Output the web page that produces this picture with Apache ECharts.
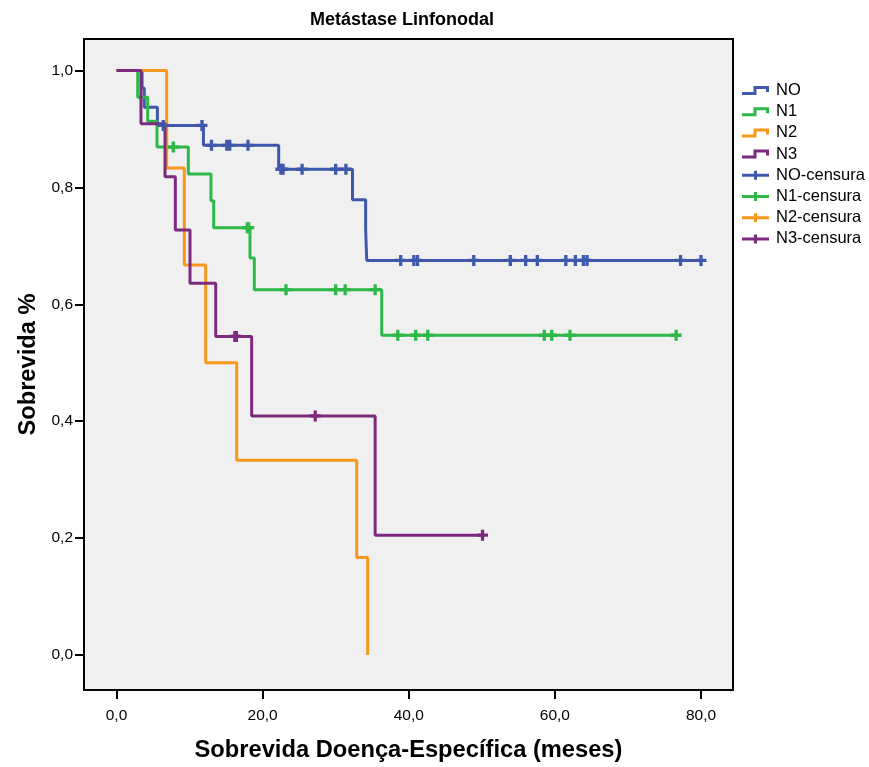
<!DOCTYPE html>
<html>
<head>
<meta charset="utf-8">
<script src="https://cdn.jsdelivr.net/npm/echarts@6/dist/echarts.min.js"></script>
<style>
  html, body { margin: 0; padding: 0; background: #ffffff; }
  #chart { width: 869px; height: 767px; }
</style>
</head>
<body>
<div id="chart"></div>
<script>
// ---- Data ----
const seriesNames = ['NO', 'N1', 'N2', 'N3'];
const censorNames = ['NO-censura', 'N1-censura', 'N2-censura', 'N3-censura'];

// Kaplan-Meier step curves: event times (months) and survival after each step
const noTimes = [0, 3.5, 3.8, 5.6, 11.9, 22.2, 32.3, 34.1, 34.25, 80.0];
const noSurv  = [1, 0.970, 0.937, 0.906, 0.872, 0.831, 0.779, 0.728, 0.675, 0.675];

const n1Times = [0, 2.9, 4.27, 5.54, 9.83, 12.93, 13.3, 18.27, 18.86, 36.3, 76.6];
const n1Surv  = [1, 0.954, 0.913, 0.869, 0.823, 0.777, 0.731, 0.679, 0.625, 0.547, 0.547];

const n2Times = [0, 6.87, 9.28, 12.2, 16.45, 32.88, 34.38];
const n2Surv  = [1, 0.833, 0.667, 0.500, 0.333, 0.167, 0];

const n3Times = [0, 3.35, 6.64, 8.05, 10.06, 13.58, 18.5, 35.4, 50.1];
const n3Surv  = [1, 0.909, 0.818, 0.727, 0.636, 0.545, 0.409, 0.205, 0.205];

// Censored observations
const noCensTimes = [6.4, 11.7, 13.0, 15.1, 15.5, 18.0, 22.5, 22.8, 25.4, 30.0, 31.4, 38.9, 40.7, 41.2, 48.9, 53.9, 56.0, 57.6, 61.5, 62.8, 63.9, 64.4, 77.2, 80.0];
const noCensSurv  = [0.906, 0.906, 0.872, 0.872, 0.872, 0.872, 0.831, 0.831, 0.831, 0.831, 0.831, 0.675, 0.675, 0.675, 0.675, 0.675, 0.675, 0.675, 0.675, 0.675, 0.675, 0.675, 0.675, 0.675];

const n1CensTimes = [7.77, 17.9, 18.1, 23.2, 30.0, 31.3, 35.4, 38.5, 40.95, 42.6, 58.55, 59.57, 62.07, 76.6];
const n1CensSurv  = [0.869, 0.731, 0.731, 0.625, 0.625, 0.625, 0.625, 0.547, 0.547, 0.547, 0.547, 0.547, 0.547, 0.547];

const n2CensTimes = [];
const n2CensSurv  = [];

const n3CensTimes = [16.2, 16.4, 27.2, 50.1];
const n3CensSurv  = [0.545, 0.545, 0.409, 0.205];

const xTicks = [0, 20, 40, 60, 80];
const yTicks = [0, 0.2, 0.4, 0.6, 0.8, 1.0];

// ---- Presentation ----
const colors = ['#3E58AC', '#2EB848', '#F7981D', '#7B2A7E'];
const FONT = "'Liberation Sans', Arial, sans-serif";
const stepIcon = 'path://M0,6 L11.5,6 L11.5,0 L27,0 L27,6 L24,6 L24,3 L14.5,3 L14.5,9 L0,9 Z';
const plusIcon = 'path://M12,0 L15,0 L15,3 L27,3 L27,6 L15,6 L15,9 L12,9 L12,6 L0,6 L0,3 L12,3 Z';
const plusSymbol = 'path://M3.5,0 L6.5,0 L6.5,3.5 L10,3.5 L10,6.5 L6.5,6.5 L6.5,10 L3.5,10 L3.5,6.5 L0,6.5 L0,3.5 L3.5,3.5 Z';

const pair = (ts, ss) => ts.map((t, i) => [t, ss[i]]);
const curves = [pair(noTimes, noSurv), pair(n1Times, n1Surv), pair(n2Times, n2Surv), pair(n3Times, n3Surv)];
const censors = [pair(noCensTimes, noCensSurv), pair(n1CensTimes, n1CensSurv), pair(n2CensTimes, n2CensSurv), pair(n3CensTimes, n3CensSurv)];

const fmt = v => (Math.round(v * 10) / 10).toFixed(1).replace('.', ',');

const series = [];
seriesNames.forEach((name, i) => {
  series.push({
    name: name,
    type: 'line',
    step: 'end',
    data: curves[i],
    showSymbol: false,
    symbol: 'none',
    lineStyle: { color: colors[i], width: 3 },
    itemStyle: { color: colors[i] },
    z: 2 + i
  });
});
censorNames.forEach((name, i) => {
  series.push({
    name: name,
    type: 'scatter',
    data: censors[i],
    symbol: plusSymbol,
    symbolSize: 11,
    itemStyle: { color: colors[i], opacity: 1 },
    z: 10
  });
});

const chart = echarts.init(document.getElementById('chart'), null, { renderer: 'canvas' });
chart.setOption({
  animation: false,
  backgroundColor: '#ffffff',
  title: {
    text: 'Metástase Linfonodal',
    left: 397, top: 6, textAlign: 'center',
    textStyle: { fontFamily: FONT, fontWeight: 'bold', fontSize: 18, color: '#000' }
  },
  legend: {
    orient: 'vertical',
    left: 737, top: 77,
    itemWidth: 27, itemHeight: 9, itemGap: 4.2,
    textStyle: { fontFamily: FONT, fontSize: 16.5, color: '#000', padding: [0, 0, 0, 2] },
    data: seriesNames.map((n) => ({ name: n, icon: stepIcon }))
      .concat(censorNames.map((n) => ({ name: n, icon: plusIcon })))
  },
  grid: {
    left: 84, top: 39, width: 649, height: 652,
    show: true, backgroundColor: '#F0F0F0', borderColor: '#000', borderWidth: 2,
    containLabel: false
  },
  xAxis: {
    type: 'value',
    min: -4.448, max: 84.38,
    name: 'Sobrevida Doença-Específica (meses)',
    nameLocation: 'middle', nameGap: 48,
    nameTextStyle: { fontFamily: FONT, fontWeight: 'bold', fontSize: 23.7, color: '#000' },
    axisLine: { show: true, onZero: false, lineStyle: { color: '#000', width: 2 } },
    splitLine: { show: false },
    axisTick: { show: true, inside: false, customValues: xTicks, length: 9, lineStyle: { color: '#000', width: 2 } },
    axisLabel: { customValues: xTicks, formatter: fmt, margin: 18, fontFamily: FONT, fontSize: 15.5, color: '#000' }
  },
  yAxis: {
    type: 'value',
    min: -0.0598, max: 1.0538,
    name: 'Sobrevida %',
    nameLocation: 'middle', nameGap: 41, nameRotate: 90,
    nameTextStyle: { fontFamily: FONT, fontWeight: 'bold', fontSize: 23.7, color: '#000' },
    axisLine: { show: true, onZero: false, lineStyle: { color: '#000', width: 2 } },
    splitLine: { show: false },
    axisTick: { show: true, inside: false, customValues: yTicks, length: 9, lineStyle: { color: '#000', width: 2 } },
    axisLabel: { customValues: yTicks, formatter: fmt, margin: 11, fontFamily: FONT, fontSize: 15.5, color: '#000' }
  },
  series: series
});
</script>
</body>
</html>
